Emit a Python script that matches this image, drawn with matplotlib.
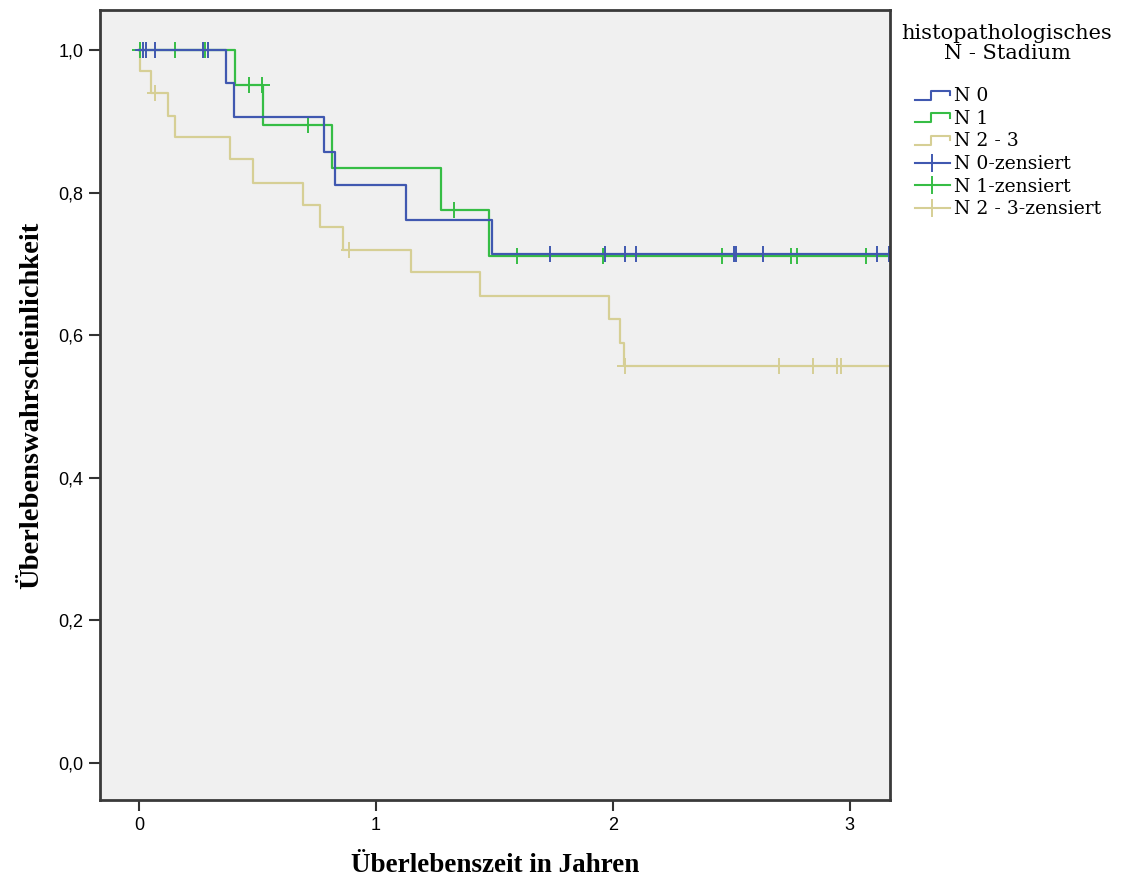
import numpy as np
import matplotlib
matplotlib.use('Agg')
import matplotlib.pyplot as plt
from matplotlib.lines import Line2D
from matplotlib.legend_handler import HandlerBase

# Kaplan-Meier Daten
n0_times = [0, 0.368, 0.399, 0.782, 0.829, 1.128, 1.490, 3.25]
n0_surv = [1.0, 0.953, 0.906, 0.857, 0.810, 0.762, 0.714, 0.714]
n0_cens = [0.017, 0.030, 0.068, 0.270, 0.292, 1.736, 1.966, 2.053, 2.098,
           2.511, 2.518, 2.635, 3.116, 3.165]

n1_times = [0, 0.407, 0.522, 0.813, 1.276, 1.476, 3.25]
n1_surv = [1.0, 0.951, 0.895, 0.835, 0.776, 0.711, 0.711]
n1_cens = [0.006, 0.152, 0.278, 0.462, 0.518, 0.713, 1.328, 1.595, 1.957,
           2.462, 2.753, 2.776, 3.070]

n23_times = [0, 0.004, 0.049, 0.124, 0.151, 0.382, 0.480, 0.690, 0.762,
             0.863, 1.148, 1.441, 1.983, 2.032, 2.046, 3.25]
n23_surv = [1.0, 0.970, 0.940, 0.908, 0.878, 0.847, 0.814, 0.783, 0.752,
            0.720, 0.689, 0.655, 0.623, 0.589, 0.557, 0.557]
n23_cens = [0.068, 0.888, 2.053, 2.700, 2.846, 2.947, 2.964]

labels = ['N 0', 'N 1', 'N 2 - 3']
colors = ['#4058b0', '#36bd45', '#d6cf95']

serif = 'Liberation Serif'
leg_serif = 'DejaVu Serif'
sans = 'Liberation Sans'


def level_at(times, surv, t):
    i = np.searchsorted(times, t, side='right') - 1
    return np.array(surv)[i]


class HandlerStep(HandlerBase):
    def create_artists(self, legend, orig, xd, yd, w, h, fs, trans):
        x = [xd, xd + w * 0.45, xd + w * 0.45, xd + w, xd + w]
        y = [h * 0.1 - yd, h * 0.1 - yd, h * 0.8 - yd, h * 0.8 - yd, h * 0.45 - yd]
        ln = Line2D(x, y, color=orig.get_color(), lw=1.5, transform=trans)
        return [ln]


fig = plt.figure(figsize=(11.21, 8.81), dpi=100)
ax = fig.add_axes([0.0892, 0.0920, 0.7047, 0.8966])
ax.set_facecolor('#f0f0f0')

groups = [(n0_times, n0_surv, n0_cens), (n1_times, n1_surv, n1_cens),
          (n23_times, n23_surv, n23_cens)]

step_handles = []
cens_handles = []
# gold zuerst, dann gruen, dann blau oben
for k in [2, 1, 0]:
    t, s, c = groups[k]
    ax.plot(t, s, drawstyle='steps-post', color=colors[k], lw=1.6)
    cy = level_at(t, s, np.array(c))
    ax.plot(c, cy, ls='none', marker='+', ms=11, mew=1.4, color=colors[k])
for k in range(3):
    step_handles.append(Line2D([], [], color=colors[k], lw=1.5))
    cens_handles.append(Line2D([0], [0], color=colors[k], lw=1.5,
                               marker='+', ms=13, mew=1.4))

ax.set_xlim(-0.165, 3.17)
ax.set_ylim(-0.052, 1.056)
ax.set_xticks([0, 1, 2, 3])
ax.set_yticks([0, 0.2, 0.4, 0.6, 0.8, 1.0])
ax.set_yticklabels(['0,0', '0,2', '0,4', '0,6', '0,8', '1,0'])
ax.tick_params(direction='out', length=8, width=1.5, color='#333333',
               labelsize=13, pad=4)
for lab in ax.get_xticklabels() + ax.get_yticklabels():
    lab.set_fontfamily(sans)

for sp in ax.spines.values():
    sp.set_color('#3a3a3a')
    sp.set_linewidth(2)

ax.set_xlabel('Überlebenszeit in Jahren', fontfamily=serif, fontweight='bold',
              fontsize=19.5, labelpad=14)
ax.set_ylabel('Überlebenswahrscheinlichkeit', fontfamily=serif,
              fontweight='bold', fontsize=20.5, labelpad=10)

fig.text(1007 / 1121, 1 - 24 / 881, 'histopathologisches\nN - Stadium',
         ha='center', va='top', ma='center', fontfamily=leg_serif,
         fontsize=15, linespacing=1.05)

leg = fig.legend(step_handles + cens_handles,
                 labels + [l + '-zensiert' for l in labels],
                 handler_map={h: HandlerStep() for h in step_handles},
                 loc='upper left', bbox_to_anchor=(915 / 1121, 1 - 87 / 881),
                 frameon=False, prop={'family': leg_serif, 'size': 13.5},
                 handlelength=1.85, handletextpad=0.25, labelspacing=0.25,
                 borderaxespad=0, borderpad=0)

fig.savefig('out.png', dpi=100, facecolor='white')
